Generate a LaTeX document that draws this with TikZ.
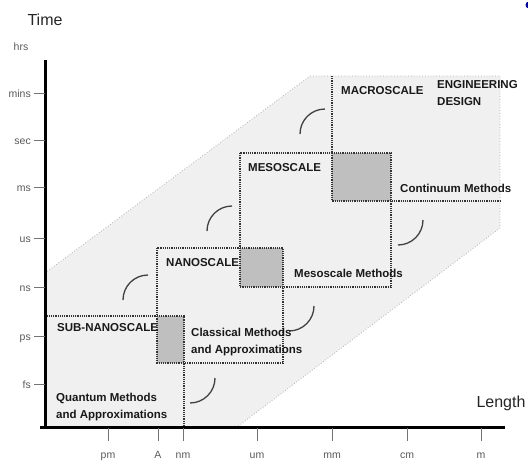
\documentclass[tikz,border=0pt]{standalone}
\usepackage{fontspec}
\setmainfont{Liberation Sans}
\usetikzlibrary{positioning}
\tikzset{
    band/.style={fill=black!6, draw=black!30, dotted, line width=0.8pt},
    overlap/.style={fill=black!25},
    scalebox/.style={draw=black!80, densely dotted, line width=1.2pt},
    link/.style={draw=black!75, line width=1.3pt},
    axis/.style={draw=black, line width=3pt},
    tickmark/.style={draw=black!55, line width=0.9pt},
    ticklabel/.style={text=black!65, font=\fontsize{10.5}{12}\selectfont, inner sep=1pt},
    axislabel/.style={text=black!85, font=\fontsize{16}{18}\selectfont, inner sep=0pt},
    scalename/.style={anchor=west, inner sep=0pt, text=black!90, font=\bfseries\fontsize{11.5}{17}\selectfont},
    method/.style={scalename, align=left}
}

\begin{document}
\begin{tikzpicture}[x=1pt, y=-1pt]
    \useasboundingbox (0,0) rectangle (528,461);

    % band of scales
    \path [band] (45,273) -- (310,76) -- (500,76) -- (500,228) -- (237,427) -- (45,427) -- cycle;

    % overlapping regions
    \path [overlap] (157,316) rectangle (184,363);
    \path [overlap] (240,248) rectangle (283,287);
    \path [overlap] (332,153) rectangle (391,201);

    % scale boxes
    \draw [scalebox] (45,316) rectangle (184,427);
    \draw [scalebox] (157,248) rectangle (283,363);
    \draw [scalebox] (240,153) rectangle (391,287);
    \draw [scalebox] (332,76) -- (332,201) -- (500,201);

    % links between scales
    \draw [link] (123,300) arc[start angle=180, end angle=90, radius=25pt];
    \draw [link] (207,231) arc[start angle=180, end angle=90, radius=25pt];
    \draw [link] (300,134) arc[start angle=180, end angle=90, radius=25pt];
    \draw [link] (215,378) arc[start angle=0, end angle=-90, radius=25pt];
    \draw [link] (314,306) arc[start angle=0, end angle=-90, radius=25pt];
    \draw [link] (423,220) arc[start angle=0, end angle=-90, radius=25pt];

    % labels
    \node (subnano) [scalename] at (57,328) {SUB-NANOSCALE};
    \node (quantum) [method] at (56,407) {Quantum Methods\\and Approximations};
    \node (nano) [scalename] at (166,263) {NANOSCALE};
    \node (classical) [method] at (191,342) {Classical Methods\\and Approximations};
    \node (meso) [scalename] at (248,168) {MESOSCALE};
    \node (mesomethods) [scalename] at (294,273) {Mesoscale Methods};
    \node (macro) [scalename] at (341,91) {MACROSCALE};
    \node (engineering) [method] at (437,93.5) {ENGINEERING\\DESIGN};
    \node (continuum) [scalename] at (400,188) {Continuum Methods};

    % axes
    \coordinate (origin) at (45,427);
    \coordinate (ytop) at (45,60);
    \coordinate (xend) at (505,427);
    \draw [axis] (origin) -- (ytop);
    \draw [axis] (40,427) -- (xend);
    \node (time) [axislabel] at (45,20) {Time};
    \node (length) [axislabel] at (501,403) {Length};
    \node (hrs) [ticklabel, anchor=base] at (21,50) {hrs};

    \foreach \lab/\yy in {mins/93, sec/140, ms/187, us/238, ns/287, ps/336, fs/384} {
        \draw [tickmark] (34,\yy) -- (45,\yy);
        \node (y-\lab) [ticklabel, anchor=base east] at (32,\yy+4) {\lab};
    }
    \foreach \lab/\xx in {pm/108, A/158, nm/183, um/257, mm/332, cm/407, m/481} {
        \draw [tickmark] (\xx,428) -- (\xx,441);
        \node (x-\lab) [ticklabel, anchor=base] at (\xx,458) {\lab};
    }

    \fill [blue!60!black] (529,5) circle (3.5pt);
\end{tikzpicture}
\end{document}
